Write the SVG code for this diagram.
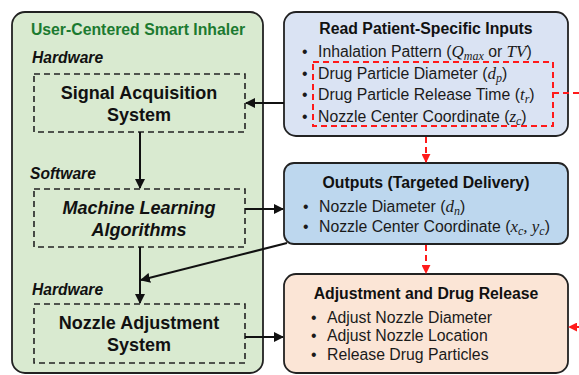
<svg xmlns="http://www.w3.org/2000/svg" width="579" height="375" viewBox="0 0 579 375">
<style>
.t{font-family:"Liberation Sans",Arial,sans-serif;fill:#111}
.h{font-weight:bold;font-size:15.8px}
.hi{font-weight:bold;font-style:italic;font-size:15.6px}
.big{font-weight:bold;font-size:18px}
.bigi{font-weight:bold;font-style:italic;font-size:18px}
.b{font-size:15.8px;fill:#1a1a1a}
.m{font-family:"Liberation Serif","Times New Roman",serif;font-style:italic;font-size:17px}
.s{font-family:"Liberation Serif","Times New Roman",serif;font-style:italic;font-size:12px}
.dash{fill:none;stroke:#222;stroke-width:1.6;stroke-dasharray:6,4}
.box{stroke:#222;stroke-width:1.8}
.con{fill:none;stroke:#111;stroke-width:2}
.red{fill:none;stroke:#ff1a1a;stroke-width:2;stroke-dasharray:6,4}
</style>
<defs>
<marker id="ah" viewBox="0 0 10 10" refX="9" refY="5" markerWidth="5" markerHeight="5" orient="auto" markerUnits="strokeWidth">
<path d="M0,0 L10,5 L0,10 z" fill="#111"/>
</marker>
<marker id="ar" viewBox="0 0 10 10" refX="9" refY="5" markerWidth="4.5" markerHeight="4.5" orient="auto" markerUnits="strokeWidth">
<path d="M0,0 L10,5 L0,10 z" fill="#ff1a1a"/>
</marker>
</defs>

<g id="inhaler">
<rect x="12" y="12" width="251" height="361" rx="13" fill="#d9ead0" class="box"/>
<text x="138" y="35" text-anchor="middle" class="t h" style="fill:#1c7a30">User-Centered Smart Inhaler</text>
<text x="32" y="63" class="t hi">Hardware</text>
<text x="30" y="179" class="t hi">Software</text>
<text x="32" y="295" class="t hi">Hardware</text>
</g>

<g id="signal">
<rect x="34" y="74" width="211" height="58" class="dash"/>
<text x="139" y="99" text-anchor="middle" class="t big">Signal Acquisition</text>
<text x="139" y="121" text-anchor="middle" class="t big">System</text>
</g>

<g id="ml">
<rect x="34" y="189" width="211" height="58" class="dash"/>
<text x="139" y="214" text-anchor="middle" class="t bigi">Machine Learning</text>
<text x="139" y="236" text-anchor="middle" class="t bigi">Algorithms</text>
</g>

<g id="nozzle">
<rect x="34" y="304" width="211" height="59" class="dash"/>
<text x="139" y="329" text-anchor="middle" class="t big">Nozzle Adjustment</text>
<text x="139" y="351" text-anchor="middle" class="t big">System</text>
</g>

<g id="inputs">
<rect x="284" y="12" width="284" height="124" rx="12" fill="#dae3f3" class="box"/>
<text x="426" y="34" text-anchor="middle" class="t h">Read Patient-Specific Inputs</text>
<text x="302" y="57" class="t b">•</text>
<text x="318" y="57" class="t b">Inhalation Pattern (<tspan class="m">Q</tspan><tspan class="s" dy="3">max</tspan><tspan dy="-3"> or </tspan><tspan class="m">TV</tspan>)</text>
<text x="302" y="79" class="t b">•</text>
<text x="318" y="79" class="t b">Drug Particle Diameter (<tspan class="m">d</tspan><tspan class="s" dy="3">p</tspan><tspan dy="-3">)</tspan></text>
<text x="302" y="100" class="t b">•</text>
<text x="318" y="100" class="t b">Drug Particle Release Time (<tspan class="m">t</tspan><tspan class="s" dy="3">r</tspan><tspan dy="-3">)</tspan></text>
<text x="302" y="122" class="t b">•</text>
<text x="318" y="122" class="t b">Nozzle Center Coordinate (<tspan class="m">z</tspan><tspan class="s" dy="3">c</tspan><tspan dy="-3">)</tspan></text>
<rect x="313" y="62" width="240" height="64" class="red"/>
</g>

<g id="outputs">
<rect x="284" y="163" width="284" height="81" rx="10" fill="#bdd7ee" class="box"/>
<text x="426" y="188" text-anchor="middle" class="t h">Outputs (Targeted Delivery)</text>
<text x="303" y="212" class="t b">•</text>
<text x="319" y="212" class="t b">Nozzle Diameter (<tspan class="m">d</tspan><tspan class="s" dy="3">n</tspan><tspan dy="-3">)</tspan></text>
<text x="303" y="232" class="t b">•</text>
<text x="319" y="232" class="t b">Nozzle Center Coordinate (<tspan class="m">x</tspan><tspan class="s" dy="3">c</tspan><tspan class="m" dy="-3">, y</tspan><tspan class="s" dy="3">c</tspan><tspan dy="-3">)</tspan></text>
</g>

<g id="release">
<rect x="284" y="274" width="284" height="99" rx="12" fill="#fbe5d6" class="box"/>
<text x="426" y="299" text-anchor="middle" class="t h">Adjustment and Drug Release</text>
<text x="311" y="323" class="t b">•</text>
<text x="327" y="323" class="t b">Adjust Nozzle Diameter</text>
<text x="311" y="341" class="t b">•</text>
<text x="327" y="341" class="t b">Adjust Nozzle Location</text>
<text x="311" y="360" class="t b">•</text>
<text x="327" y="360" class="t b">Release Drug Particles</text>
</g>

<g id="connectors">
<line x1="284" y1="103" x2="246" y2="103" class="con" marker-end="url(#ah)"/>
<line x1="140" y1="132" x2="140" y2="188" class="con" marker-end="url(#ah)"/>
<line x1="245" y1="209" x2="283" y2="209" class="con" marker-end="url(#ah)"/>
<line x1="140" y1="247" x2="140" y2="303" class="con" marker-end="url(#ah)"/>
<line x1="287" y1="243" x2="141" y2="280" class="con" marker-end="url(#ah)"/>
<line x1="245" y1="337" x2="283" y2="337" class="con" marker-end="url(#ah)"/>
<line x1="426" y1="137" x2="426" y2="162" class="red" marker-end="url(#ar)"/>
<line x1="426" y1="245" x2="426" y2="273" class="red" marker-end="url(#ar)"/>
<path d="M553,93 H584 V327 H569" class="red" marker-end="url(#ar)"/>
</g>
</svg>
